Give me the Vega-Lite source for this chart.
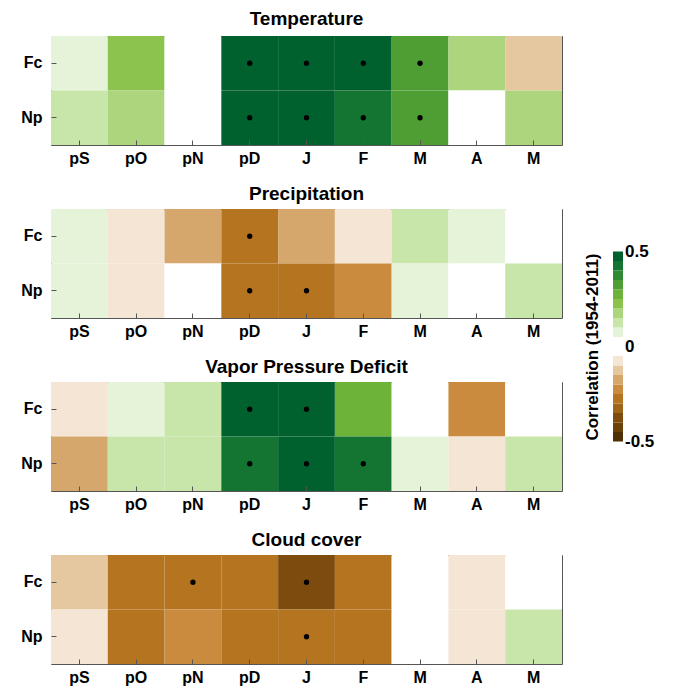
{
  "$schema": "https://vega.github.io/schema/vega-lite/v6.json",
  "padding": {"left": 20, "top": 9, "right": 0, "bottom": 0},
  "background": "white",
  "data": {"values": [
    {"v": "Temperature", "m": "pS", "s": "Fc", "r": 0.075, "sig": 0},
    {"v": "Temperature", "m": "pO", "s": "Fc", "r": 0.225, "sig": 0},
    {"v": "Temperature", "m": "pN", "s": "Fc", "r": 0.0, "sig": 0},
    {"v": "Temperature", "m": "pD", "s": "Fc", "r": 0.475, "sig": 1},
    {"v": "Temperature", "m": "J", "s": "Fc", "r": 0.475, "sig": 1},
    {"v": "Temperature", "m": "F", "s": "Fc", "r": 0.475, "sig": 1},
    {"v": "Temperature", "m": "Mar", "s": "Fc", "r": 0.325, "sig": 1},
    {"v": "Temperature", "m": "A", "s": "Fc", "r": 0.175, "sig": 0},
    {"v": "Temperature", "m": "May", "s": "Fc", "r": -0.125, "sig": 0},
    {"v": "Temperature", "m": "pS", "s": "Np", "r": 0.125, "sig": 0},
    {"v": "Temperature", "m": "pO", "s": "Np", "r": 0.175, "sig": 0},
    {"v": "Temperature", "m": "pN", "s": "Np", "r": 0.0, "sig": 0},
    {"v": "Temperature", "m": "pD", "s": "Np", "r": 0.475, "sig": 1},
    {"v": "Temperature", "m": "J", "s": "Np", "r": 0.475, "sig": 1},
    {"v": "Temperature", "m": "F", "s": "Np", "r": 0.425, "sig": 1},
    {"v": "Temperature", "m": "Mar", "s": "Np", "r": 0.325, "sig": 1},
    {"v": "Temperature", "m": "A", "s": "Np", "r": 0.0, "sig": 0},
    {"v": "Temperature", "m": "May", "s": "Np", "r": 0.175, "sig": 0},

    {"v": "Precipitation", "m": "pS", "s": "Fc", "r": 0.075, "sig": 0},
    {"v": "Precipitation", "m": "pO", "s": "Fc", "r": -0.075, "sig": 0},
    {"v": "Precipitation", "m": "pN", "s": "Fc", "r": -0.175, "sig": 0},
    {"v": "Precipitation", "m": "pD", "s": "Fc", "r": -0.275, "sig": 1},
    {"v": "Precipitation", "m": "J", "s": "Fc", "r": -0.175, "sig": 0},
    {"v": "Precipitation", "m": "F", "s": "Fc", "r": -0.075, "sig": 0},
    {"v": "Precipitation", "m": "Mar", "s": "Fc", "r": 0.125, "sig": 0},
    {"v": "Precipitation", "m": "A", "s": "Fc", "r": 0.075, "sig": 0},
    {"v": "Precipitation", "m": "May", "s": "Fc", "r": 0.0, "sig": 0},
    {"v": "Precipitation", "m": "pS", "s": "Np", "r": 0.075, "sig": 0},
    {"v": "Precipitation", "m": "pO", "s": "Np", "r": -0.075, "sig": 0},
    {"v": "Precipitation", "m": "pN", "s": "Np", "r": 0.0, "sig": 0},
    {"v": "Precipitation", "m": "pD", "s": "Np", "r": -0.275, "sig": 1},
    {"v": "Precipitation", "m": "J", "s": "Np", "r": -0.275, "sig": 1},
    {"v": "Precipitation", "m": "F", "s": "Np", "r": -0.225, "sig": 0},
    {"v": "Precipitation", "m": "Mar", "s": "Np", "r": 0.075, "sig": 0},
    {"v": "Precipitation", "m": "A", "s": "Np", "r": 0.0, "sig": 0},
    {"v": "Precipitation", "m": "May", "s": "Np", "r": 0.125, "sig": 0},

    {"v": "Vapor Pressure Deficit", "m": "pS", "s": "Fc", "r": -0.075, "sig": 0},
    {"v": "Vapor Pressure Deficit", "m": "pO", "s": "Fc", "r": 0.075, "sig": 0},
    {"v": "Vapor Pressure Deficit", "m": "pN", "s": "Fc", "r": 0.125, "sig": 0},
    {"v": "Vapor Pressure Deficit", "m": "pD", "s": "Fc", "r": 0.475, "sig": 1},
    {"v": "Vapor Pressure Deficit", "m": "J", "s": "Fc", "r": 0.475, "sig": 1},
    {"v": "Vapor Pressure Deficit", "m": "F", "s": "Fc", "r": 0.275, "sig": 0},
    {"v": "Vapor Pressure Deficit", "m": "Mar", "s": "Fc", "r": 0.0, "sig": 0},
    {"v": "Vapor Pressure Deficit", "m": "A", "s": "Fc", "r": -0.225, "sig": 0},
    {"v": "Vapor Pressure Deficit", "m": "May", "s": "Fc", "r": 0.0, "sig": 0},
    {"v": "Vapor Pressure Deficit", "m": "pS", "s": "Np", "r": -0.175, "sig": 0},
    {"v": "Vapor Pressure Deficit", "m": "pO", "s": "Np", "r": 0.125, "sig": 0},
    {"v": "Vapor Pressure Deficit", "m": "pN", "s": "Np", "r": 0.125, "sig": 0},
    {"v": "Vapor Pressure Deficit", "m": "pD", "s": "Np", "r": 0.425, "sig": 1},
    {"v": "Vapor Pressure Deficit", "m": "J", "s": "Np", "r": 0.475, "sig": 1},
    {"v": "Vapor Pressure Deficit", "m": "F", "s": "Np", "r": 0.425, "sig": 1},
    {"v": "Vapor Pressure Deficit", "m": "Mar", "s": "Np", "r": 0.075, "sig": 0},
    {"v": "Vapor Pressure Deficit", "m": "A", "s": "Np", "r": -0.075, "sig": 0},
    {"v": "Vapor Pressure Deficit", "m": "May", "s": "Np", "r": 0.125, "sig": 0},

    {"v": "Cloud cover", "m": "pS", "s": "Fc", "r": -0.125, "sig": 0},
    {"v": "Cloud cover", "m": "pO", "s": "Fc", "r": -0.275, "sig": 0},
    {"v": "Cloud cover", "m": "pN", "s": "Fc", "r": -0.275, "sig": 1},
    {"v": "Cloud cover", "m": "pD", "s": "Fc", "r": -0.275, "sig": 0},
    {"v": "Cloud cover", "m": "J", "s": "Fc", "r": -0.375, "sig": 1},
    {"v": "Cloud cover", "m": "F", "s": "Fc", "r": -0.275, "sig": 0},
    {"v": "Cloud cover", "m": "Mar", "s": "Fc", "r": 0.0, "sig": 0},
    {"v": "Cloud cover", "m": "A", "s": "Fc", "r": -0.075, "sig": 0},
    {"v": "Cloud cover", "m": "May", "s": "Fc", "r": 0.0, "sig": 0},
    {"v": "Cloud cover", "m": "pS", "s": "Np", "r": -0.075, "sig": 0},
    {"v": "Cloud cover", "m": "pO", "s": "Np", "r": -0.275, "sig": 0},
    {"v": "Cloud cover", "m": "pN", "s": "Np", "r": -0.225, "sig": 0},
    {"v": "Cloud cover", "m": "pD", "s": "Np", "r": -0.275, "sig": 0},
    {"v": "Cloud cover", "m": "J", "s": "Np", "r": -0.275, "sig": 1},
    {"v": "Cloud cover", "m": "F", "s": "Np", "r": -0.275, "sig": 0},
    {"v": "Cloud cover", "m": "Mar", "s": "Np", "r": 0.0, "sig": 0},
    {"v": "Cloud cover", "m": "A", "s": "Np", "r": -0.075, "sig": 0},
    {"v": "Cloud cover", "m": "May", "s": "Np", "r": 0.125, "sig": 0}
  ]},
  "spacing": 17,
  "vconcat": [
    {
      "title": {"text": "Temperature", "offset": 7},
      "width": 511, "height": 109,
      "transform": [{"filter": "datum.v === 'Temperature'"}],
      "layer": [
        {"mark": {"type": "rect"},
         "encoding": {
           "x": {"field": "m", "type": "nominal", "sort": ["pS","pO","pN","pD","J","F","Mar","A","May"], "scale": {"paddingInner": 0, "paddingOuter": 0}, "title": null, "axis": {"orient": "bottom", "labelAngle": 0, "labelExpr": "datum.value === 'Mar' || datum.value === 'May' ? 'M' : datum.value"}},
           "y": {"field": "s", "type": "nominal", "sort": ["Fc","Np"], "scale": {"paddingInner": 0, "paddingOuter": 0}, "title": null, "axis": {"orient": "left"}},
           "color": {"field": "r", "type": "quantitative", "title": "Correlation (1954-2011)", "legend": {"labelOverlap": false, "labelExpr": "datum.value == 0 ? '0' : datum.value == 0.5 ? '0.5' : datum.value == -0.5 ? '-0.5' : ''"}, "scale": {"type": "threshold", "domain": [-0.5,-0.45,-0.4,-0.35,-0.3,-0.25,-0.2,-0.15,-0.1,-0.05,0,0.05,0.1,0.15,0.2,0.25,0.3,0.35,0.4,0.45,0.5], "range": ["transparent","#4f2f06","#6b410b","#7e4b0f","#9e6418","#b47420","#cb8b3e","#d5a76c","#e5c89f","#f4e5d4","#ffffff","#ffffff","#e5f3d9","#c8e5aa","#acd57e","#8cc34c","#6db33a","#4f9e33","#2f8a33","#137531","#00612f","transparent"]}}
         }},
        {"mark": {"type": "point", "filled": true, "color": "black", "size": 28, "opacity": 1},
         "transform": [{"filter": "datum.sig === 1"}],
         "encoding": {
           "x": {"field": "m", "type": "nominal", "sort": ["pS","pO","pN","pD","J","F","Mar","A","May"], "title": null, "axis": {"orient": "top", "labels": false}},
           "y": {"field": "s", "type": "nominal", "sort": ["Fc","Np"], "title": null, "axis": {"orient": "right", "labels": false}}
         }}
      ],
      "resolve": {"axis": {"x": "independent", "y": "independent"}}
    },
    {
      "title": {"text": "Precipitation", "offset": 5},
      "width": 511, "height": 109,
      "transform": [{"filter": "datum.v === 'Precipitation'"}],
      "layer": [
        {"mark": {"type": "rect"},
         "encoding": {
           "x": {"field": "m", "type": "nominal", "sort": ["pS","pO","pN","pD","J","F","Mar","A","May"], "scale": {"paddingInner": 0, "paddingOuter": 0}, "title": null, "axis": {"orient": "bottom", "labelAngle": 0, "labelExpr": "datum.value === 'Mar' || datum.value === 'May' ? 'M' : datum.value"}},
           "y": {"field": "s", "type": "nominal", "sort": ["Fc","Np"], "scale": {"paddingInner": 0, "paddingOuter": 0}, "title": null, "axis": {"orient": "left"}},
           "color": {"field": "r", "type": "quantitative", "title": "Correlation (1954-2011)", "legend": {"labelOverlap": false, "labelExpr": "datum.value == 0 ? '0' : datum.value == 0.5 ? '0.5' : datum.value == -0.5 ? '-0.5' : ''"}, "scale": {"type": "threshold", "domain": [-0.5,-0.45,-0.4,-0.35,-0.3,-0.25,-0.2,-0.15,-0.1,-0.05,0,0.05,0.1,0.15,0.2,0.25,0.3,0.35,0.4,0.45,0.5], "range": ["transparent","#4f2f06","#6b410b","#7e4b0f","#9e6418","#b47420","#cb8b3e","#d5a76c","#e5c89f","#f4e5d4","#ffffff","#ffffff","#e5f3d9","#c8e5aa","#acd57e","#8cc34c","#6db33a","#4f9e33","#2f8a33","#137531","#00612f","transparent"]}}
         }},
        {"mark": {"type": "point", "filled": true, "color": "black", "size": 28, "opacity": 1},
         "transform": [{"filter": "datum.sig === 1"}],
         "encoding": {
           "x": {"field": "m", "type": "nominal", "sort": ["pS","pO","pN","pD","J","F","Mar","A","May"], "title": null, "axis": {"orient": "top", "labels": false}},
           "y": {"field": "s", "type": "nominal", "sort": ["Fc","Np"], "title": null, "axis": {"orient": "right", "labels": false}}
         }}
      ],
      "resolve": {"axis": {"x": "independent", "y": "independent"}}
    },
    {
      "title": {"text": "Vapor Pressure Deficit", "offset": 5},
      "width": 511, "height": 109,
      "transform": [{"filter": "datum.v === 'Vapor Pressure Deficit'"}],
      "layer": [
        {"mark": {"type": "rect"},
         "encoding": {
           "x": {"field": "m", "type": "nominal", "sort": ["pS","pO","pN","pD","J","F","Mar","A","May"], "scale": {"paddingInner": 0, "paddingOuter": 0}, "title": null, "axis": {"orient": "bottom", "labelAngle": 0, "labelExpr": "datum.value === 'Mar' || datum.value === 'May' ? 'M' : datum.value"}},
           "y": {"field": "s", "type": "nominal", "sort": ["Fc","Np"], "scale": {"paddingInner": 0, "paddingOuter": 0}, "title": null, "axis": {"orient": "left"}},
           "color": {"field": "r", "type": "quantitative", "title": "Correlation (1954-2011)", "legend": {"labelOverlap": false, "labelExpr": "datum.value == 0 ? '0' : datum.value == 0.5 ? '0.5' : datum.value == -0.5 ? '-0.5' : ''"}, "scale": {"type": "threshold", "domain": [-0.5,-0.45,-0.4,-0.35,-0.3,-0.25,-0.2,-0.15,-0.1,-0.05,0,0.05,0.1,0.15,0.2,0.25,0.3,0.35,0.4,0.45,0.5], "range": ["transparent","#4f2f06","#6b410b","#7e4b0f","#9e6418","#b47420","#cb8b3e","#d5a76c","#e5c89f","#f4e5d4","#ffffff","#ffffff","#e5f3d9","#c8e5aa","#acd57e","#8cc34c","#6db33a","#4f9e33","#2f8a33","#137531","#00612f","transparent"]}}
         }},
        {"mark": {"type": "point", "filled": true, "color": "black", "size": 28, "opacity": 1},
         "transform": [{"filter": "datum.sig === 1"}],
         "encoding": {
           "x": {"field": "m", "type": "nominal", "sort": ["pS","pO","pN","pD","J","F","Mar","A","May"], "title": null, "axis": {"orient": "top", "labels": false}},
           "y": {"field": "s", "type": "nominal", "sort": ["Fc","Np"], "title": null, "axis": {"orient": "right", "labels": false}}
         }}
      ],
      "resolve": {"axis": {"x": "independent", "y": "independent"}}
    },
    {
      "title": {"text": "Cloud cover", "offset": 5},
      "width": 511, "height": 109,
      "transform": [{"filter": "datum.v === 'Cloud cover'"}],
      "layer": [
        {"mark": {"type": "rect"},
         "encoding": {
           "x": {"field": "m", "type": "nominal", "sort": ["pS","pO","pN","pD","J","F","Mar","A","May"], "scale": {"paddingInner": 0, "paddingOuter": 0}, "title": null, "axis": {"orient": "bottom", "labelAngle": 0, "labelExpr": "datum.value === 'Mar' || datum.value === 'May' ? 'M' : datum.value"}},
           "y": {"field": "s", "type": "nominal", "sort": ["Fc","Np"], "scale": {"paddingInner": 0, "paddingOuter": 0}, "title": null, "axis": {"orient": "left"}},
           "color": {"field": "r", "type": "quantitative", "title": "Correlation (1954-2011)", "legend": {"labelOverlap": false, "labelExpr": "datum.value == 0 ? '0' : datum.value == 0.5 ? '0.5' : datum.value == -0.5 ? '-0.5' : ''"}, "scale": {"type": "threshold", "domain": [-0.5,-0.45,-0.4,-0.35,-0.3,-0.25,-0.2,-0.15,-0.1,-0.05,0,0.05,0.1,0.15,0.2,0.25,0.3,0.35,0.4,0.45,0.5], "range": ["transparent","#4f2f06","#6b410b","#7e4b0f","#9e6418","#b47420","#cb8b3e","#d5a76c","#e5c89f","#f4e5d4","#ffffff","#ffffff","#e5f3d9","#c8e5aa","#acd57e","#8cc34c","#6db33a","#4f9e33","#2f8a33","#137531","#00612f","transparent"]}}
         }},
        {"mark": {"type": "point", "filled": true, "color": "black", "size": 28, "opacity": 1},
         "transform": [{"filter": "datum.sig === 1"}],
         "encoding": {
           "x": {"field": "m", "type": "nominal", "sort": ["pS","pO","pN","pD","J","F","Mar","A","May"], "title": null, "axis": {"orient": "top", "labels": false}},
           "y": {"field": "s", "type": "nominal", "sort": ["Fc","Np"], "title": null, "axis": {"orient": "right", "labels": false}}
         }}
      ],
      "resolve": {"axis": {"x": "independent", "y": "independent"}}
    }
  ],
  "resolve": {"scale": {"color": "shared"}},
  "config": {
    "font": "Liberation Sans",
    "view": {"stroke": "#555555", "strokeWidth": 1},
    "axis": {"grid": false, "domain": false, "labelFont": "Liberation Sans", "labelFontWeight": "bold", "labelFontSize": 16, "labelColor": "#000000", "tickColor": "#555555", "tickSize": -5, "labelPadding": 10},
    "axisY": {"labelPadding": 14},
    "title": {"font": "Liberation Sans", "fontSize": 19, "fontWeight": "bold", "color": "#000000"},
    "legend": {"orient": "none", "legendX": 533, "legendY": 206, "type": "gradient", "gradientLength": 209, "gradientThickness": 10, "gradientStrokeWidth": 0, "labelFont": "Liberation Sans", "labelFontWeight": "bold", "labelFontSize": 17, "labelColor": "#000000", "titleFont": "Liberation Sans", "titleFontWeight": "bold", "titleFontSize": 17, "titleColor": "#000000", "titleLimit": 300, "titleOrient": "left", "titleAnchor": "middle", "titlePadding": 10, "labelOffset": 7}
  },
  "encoding": {}
}
